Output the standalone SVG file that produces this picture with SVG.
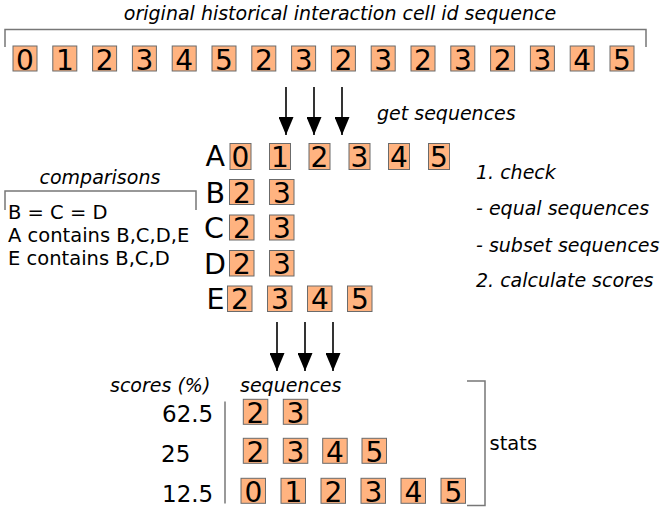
<svg xmlns="http://www.w3.org/2000/svg" width="665" height="509" viewBox="0 0 665 509">
<defs>
<style>
.b{fill:#ffb380;stroke:#6b6b6b;stroke-width:1}
.d{font-family:"DejaVu Sans",Verdana,sans-serif;font-size:28px;fill:#000;text-anchor:middle}
.L{font-family:"DejaVu Sans",Verdana,sans-serif;font-size:28.5px;fill:#000}
.i{font-family:"DejaVu Sans",Verdana,sans-serif;font-size:19px;font-style:italic;fill:#000}
.t{font-family:"DejaVu Sans",Verdana,sans-serif;font-size:19.5px;fill:#000}
.s{font-family:"DejaVu Sans",Verdana,sans-serif;font-size:23px;fill:#000}
.br{fill:none;stroke:#777;stroke-width:1.5}
.ar{stroke:#000;stroke-width:1.6;fill:none;marker-end:url(#ah)}
</style>
<marker id="ah" markerUnits="userSpaceOnUse" markerWidth="18" markerHeight="15" refX="18" refY="7.5" orient="auto" viewBox="0 0 18 15">
<path d="M0,0 L18,7.5 L0,15 Z" fill="#000"/>
</marker>
</defs>

<g id="title">
<text class="i" x="340" y="19.5" text-anchor="middle">original historical interaction cell id sequence</text>
<path class="br" d="M5,47 V29.5 H646 V47"/>
</g>

<g id="sequence">
<rect class="b" x="13" y="46" width="24" height="25"/><text class="d" x="25" y="69.5">0</text>
<rect class="b" x="52.8" y="46" width="24" height="25"/><text class="d" x="64.8" y="69.5">1</text>
<rect class="b" x="92.6" y="46" width="24" height="25"/><text class="d" x="104.6" y="69.5">2</text>
<rect class="b" x="132.4" y="46" width="24" height="25"/><text class="d" x="144.4" y="69.5">3</text>
<rect class="b" x="172.2" y="46" width="24" height="25"/><text class="d" x="184.2" y="69.5">4</text>
<rect class="b" x="212" y="46" width="24" height="25"/><text class="d" x="224" y="69.5">5</text>
<rect class="b" x="251.8" y="46" width="24" height="25"/><text class="d" x="263.8" y="69.5">2</text>
<rect class="b" x="291.6" y="46" width="24" height="25"/><text class="d" x="303.6" y="69.5">3</text>
<rect class="b" x="331.4" y="46" width="24" height="25"/><text class="d" x="343.4" y="69.5">2</text>
<rect class="b" x="371.2" y="46" width="24" height="25"/><text class="d" x="383.2" y="69.5">3</text>
<rect class="b" x="411" y="46" width="24" height="25"/><text class="d" x="423" y="69.5">2</text>
<rect class="b" x="450.8" y="46" width="24" height="25"/><text class="d" x="462.8" y="69.5">3</text>
<rect class="b" x="490.6" y="46" width="24" height="25"/><text class="d" x="502.6" y="69.5">2</text>
<rect class="b" x="530.4" y="46" width="24" height="25"/><text class="d" x="542.4" y="69.5">3</text>
<rect class="b" x="570.2" y="46" width="24" height="25"/><text class="d" x="582.2" y="69.5">4</text>
<rect class="b" x="610" y="46" width="24" height="25"/><text class="d" x="622" y="69.5">5</text>
</g>

<g id="connectors">
<line class="ar" x1="286" y1="87" x2="286" y2="135"/>
<line class="ar" x1="314" y1="87" x2="314" y2="135"/>
<line class="ar" x1="342" y1="87" x2="342" y2="135"/>
<line class="ar" x1="277" y1="322" x2="277" y2="371"/>
<line class="ar" x1="305" y1="322" x2="305" y2="371"/>
<line class="ar" x1="333" y1="322" x2="333" y2="371"/>
</g>

<g id="get-sequences"><text class="i" x="377" y="120">get sequences</text></g>

<g id="row-A">
<text class="L" x="205.5" y="166">A</text>
<rect class="b" x="230" y="143.5" width="21" height="26"/><text class="d" x="240.5" y="166.5">0</text>
<rect class="b" x="269.5" y="143.5" width="21" height="26"/><text class="d" x="280" y="166.5">1</text>
<rect class="b" x="309" y="143.5" width="21" height="26"/><text class="d" x="319.5" y="166.5">2</text>
<rect class="b" x="349" y="143.5" width="21" height="26"/><text class="d" x="359.5" y="166.5">3</text>
<rect class="b" x="388.5" y="143.5" width="21" height="26"/><text class="d" x="399" y="166.5">4</text>
<rect class="b" x="428.5" y="143.5" width="21" height="26"/><text class="d" x="439" y="166.5">5</text>
</g>
<g id="row-B">
<text class="L" x="205.5" y="202.5">B</text>
<rect class="b" x="229.5" y="179.5" width="24.5" height="25"/><text class="d" x="241.8" y="202.5">2</text>
<rect class="b" x="269.5" y="179.5" width="24.5" height="25"/><text class="d" x="281.8" y="202.5">3</text>
</g>
<g id="row-C">
<text class="L" x="204" y="238">C</text>
<rect class="b" x="229.5" y="215" width="24.5" height="25"/><text class="d" x="241.8" y="238">2</text>
<rect class="b" x="269.5" y="215" width="24.5" height="25"/><text class="d" x="281.8" y="238">3</text>
</g>
<g id="row-D">
<text class="L" x="204" y="273.5">D</text>
<rect class="b" x="229.5" y="250.5" width="24.5" height="25.5"/><text class="d" x="241.8" y="273.5">2</text>
<rect class="b" x="269.5" y="250.5" width="24.5" height="25.5"/><text class="d" x="281.8" y="273.5">3</text>
</g>
<g id="row-E">
<text class="L" x="206.5" y="309">E</text>
<rect class="b" x="227.5" y="286" width="24.5" height="25.5"/><text class="d" x="239.8" y="309">2</text>
<rect class="b" x="267.5" y="286" width="24.5" height="25.5"/><text class="d" x="279.8" y="309">3</text>
<rect class="b" x="307.5" y="286" width="24.5" height="25.5"/><text class="d" x="319.8" y="309">4</text>
<rect class="b" x="347.5" y="286" width="24.5" height="25.5"/><text class="d" x="359.8" y="309">5</text>
</g>

<g id="comparisons">
<text class="i" x="39.5" y="184">comparisons</text>
<path class="br" d="M5,210 V191 H196 V210"/>
<text class="t" x="8" y="218.5">B = C = D</text>
<text class="t" x="8" y="242">A contains B,C,D,E</text>
<text class="t" x="8" y="265">E contains B,C,D</text>
</g>

<g id="steps">
<text class="i" x="476" y="178.5">1. check</text>
<text class="i" x="476" y="215">- equal sequences</text>
<text class="i" x="476" y="251.5">- subset sequences</text>
<text class="i" x="476" y="286.5">2. calculate scores</text>
</g>

<g id="scores">
<text class="i" x="110" y="391.5">scores (%)</text>
<text class="i" x="240" y="391.5">sequences</text>
<line x1="225" y1="401.5" x2="225" y2="503.5" stroke="#777" stroke-width="1.5"/>
<text class="s" x="162" y="421.7">62.5</text>
<text class="s" x="161" y="461.7">25</text>
<text class="s" x="162" y="501.7">12.5</text>
</g>
<g id="seq-62">
<rect class="b" x="243.3" y="399.3" width="24.5" height="25"/><text class="d" x="255.5" y="422.5">2</text>
<rect class="b" x="283.3" y="399.3" width="24.5" height="25"/><text class="d" x="295.5" y="422.5">3</text>
</g>
<g id="seq-25">
<rect class="b" x="243.3" y="438.3" width="24.5" height="25"/><text class="d" x="255.5" y="461.5">2</text>
<rect class="b" x="283.3" y="438.3" width="24.5" height="25"/><text class="d" x="295.5" y="461.5">3</text>
<rect class="b" x="322.7" y="438.3" width="24.5" height="25"/><text class="d" x="335" y="461.5">4</text>
<rect class="b" x="362" y="438.3" width="24.5" height="25"/><text class="d" x="374.3" y="461.5">5</text>
</g>
<g id="seq-12">
<rect class="b" x="241" y="478.3" width="24.5" height="25"/><text class="d" x="253.3" y="501.5">0</text>
<rect class="b" x="281" y="478.3" width="24.5" height="25"/><text class="d" x="293.3" y="501.5">1</text>
<rect class="b" x="321" y="478.3" width="24.5" height="25"/><text class="d" x="333.3" y="501.5">2</text>
<rect class="b" x="361" y="478.3" width="24.5" height="25"/><text class="d" x="373.3" y="501.5">3</text>
<rect class="b" x="401" y="478.3" width="24.5" height="25"/><text class="d" x="413.3" y="501.5">4</text>
<rect class="b" x="441" y="478.3" width="24.5" height="25"/><text class="d" x="453.3" y="501.5">5</text>
</g>

<g id="stats">
<path class="br" d="M467,381 H485 V505.5 H467"/>
<text class="t" x="489.5" y="449.5">stats</text>
</g>
</svg>
